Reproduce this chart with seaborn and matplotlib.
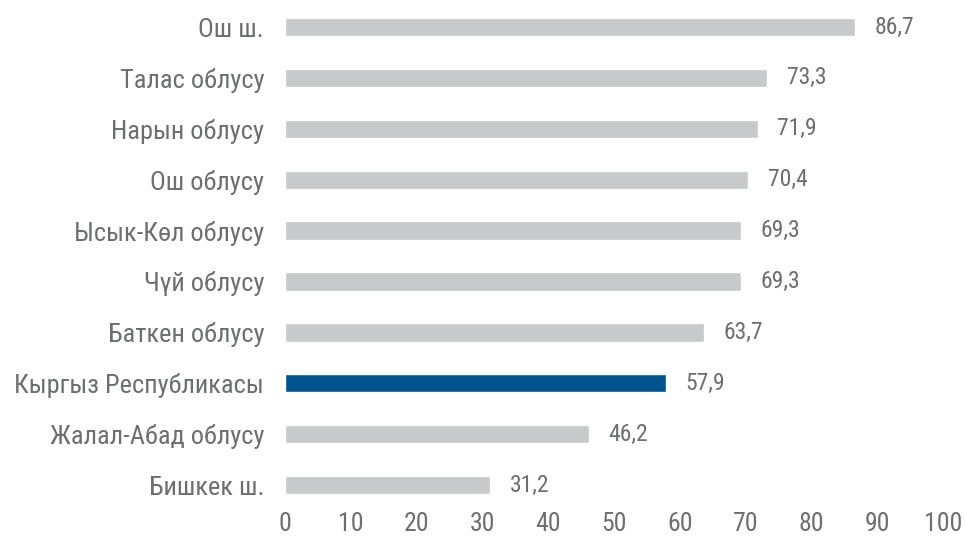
import matplotlib
matplotlib.use("Agg")
import matplotlib.pyplot as plt
import seaborn as sns
import pandas as pd

regions = ["Ош ш.", "Талас облусу", "Нарын облусу", "Ош облусу", "Ысык-Көл облусу",
           "Чүй облусу", "Баткен облусу", "Кыргыз Республикасы", "Жалал-Абад облусу", "Бишкек ш."]
values = [86.7, 73.3, 71.9, 70.4, 69.3, 69.3, 63.7, 57.9, 46.2, 31.2]
highlight = "Кыргыз Республикасы"
x_ticks = [0, 10, 20, 30, 40, 50, 60, 70, 80, 90, 100]

sns.set_theme(style="white")
plt.rcParams['font.family'] = ['Roboto Condensed', 'Roboto', 'DejaVu Sans']

df = pd.DataFrame({"region": regions, "value": values})
palette = {r: ("#00558f" if r == highlight else "#c8c9cb") for r in regions}

fig = plt.figure(figsize=(9.65, 5.36), dpi=100)
ax = fig.add_axes([0.2953, 0.0476, 0.6817, 0.9494])
sns.barplot(data=df, x="value", y="region", hue="region", palette=palette,
            order=regions, width=0.36, legend=False, ax=ax, saturation=1)

txt = "#6d6e71"
for c in ax.containers:
    ax.bar_label(c, labels=[f"{v:.1f}".replace(".", ",") for v in c.datavalues],
                 padding=14, fontsize=17, color=txt)

ax.set_xlim(0, 100)
ax.set_xticks(x_ticks)
ax.set_xticklabels([str(t) for t in x_ticks])
ax.set_xlabel("")
ax.set_ylabel("")
ax.tick_params(axis="y", length=0, pad=15, labelsize=19, labelcolor=txt)
ax.tick_params(axis="x", length=0, pad=1, labelsize=18.5, labelcolor=txt)
for s in ax.spines.values():
    s.set_visible(False)
ax.grid(False)

fig.savefig("out.png", dpi=100)
